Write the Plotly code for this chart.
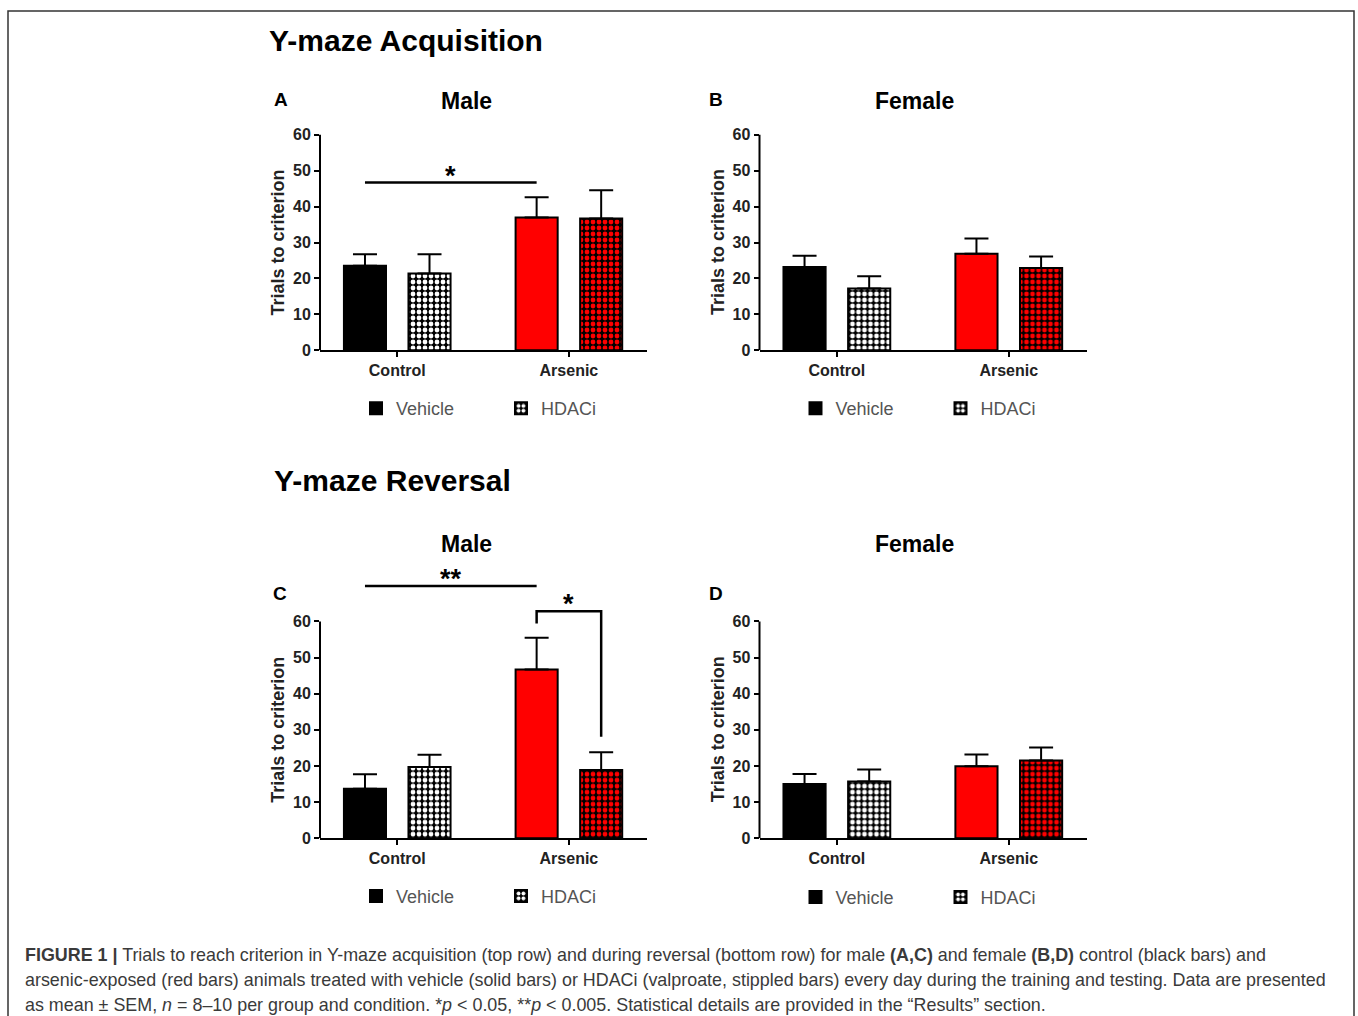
import plotly.graph_objects as go

W, H = 1358, 1016

# ---------------- data ----------------
categories = ["Control", "Arsenic"]
groups = ["Vehicle", "HDACi"]
y_ticks = [0, 10, 20, 30, 40, 50, 60]

# A: acquisition, male
a_vehicle = [23.5, 37.0]
a_vehicle_sem = [3.2, 5.6]
a_hdaci = [21.4, 36.7]
a_hdaci_sem = [5.3, 7.9]
# B: acquisition, female
b_vehicle = [23.2, 26.9]
b_vehicle_sem = [3.1, 4.2]
b_hdaci = [17.2, 22.9]
b_hdaci_sem = [3.4, 3.2]
# C: reversal, male
c_vehicle = [13.7, 46.7]
c_vehicle_sem = [4.0, 8.8]
c_hdaci = [19.7, 18.9]
c_hdaci_sem = [3.4, 4.9]
# D: reversal, female
d_vehicle = [15.0, 19.9]
d_vehicle_sem = [2.8, 3.3]
d_hdaci = [15.7, 21.5]
d_hdaci_sem = [3.3, 3.6]

# significance markers (data units)
a_sig_y = 46.7
c_sig_y = 69.8
c_bracket_y = 62.8
c_bracket_left_end = 59.4
c_bracket_right_end = 28.1

# ---------------- layout helpers ----------------
VS = 0.992  # vertical compensation for the capture

def px(x):
    return x / W

def py(y):
    return 1 - (y / VS) / H

BARGAP = 0.248
BARGROUPGAP = 0.348
OFF = (1 - BARGAP) / 4  # group offset of each bar from its category centre

panels = [
    dict(key="A", xa="x", ya="y", xd=(320, 647), yd=(81.1, 350.5),
         veh=a_vehicle, veh_e=a_vehicle_sem, hd=a_hdaci, hd_e=a_hdaci_sem,
         legend="legend", leg_y=409),
    dict(key="B", xa="x2", ya="y2", xd=(759.5, 1087), yd=(81.1, 350.5),
         veh=b_vehicle, veh_e=b_vehicle_sem, hd=b_hdaci, hd_e=b_hdaci_sem,
         legend="legend2", leg_y=409),
    dict(key="C", xa="x3", ya="y3", xd=(320, 647), yd=(567.7, 839),
         veh=c_vehicle, veh_e=c_vehicle_sem, hd=c_hdaci, hd_e=c_hdaci_sem,
         legend="legend3", leg_y=897),
    dict(key="D", xa="x4", ya="y4", xd=(759.5, 1087), yd=(567.7, 839),
         veh=d_vehicle, veh_e=d_vehicle_sem, hd=d_hdaci, hd_e=d_hdaci_sem,
         legend="legend4", leg_y=898),
]

BOLD = "Liberation Sans"
fig = go.Figure()

for i, p in enumerate(panels):
    fig.add_trace(go.Bar(
        x=categories, y=p["veh"], name=groups[0],
        xaxis=p["xa"], yaxis=p["ya"], legend=p["legend"],
        marker=dict(color=["black", "#ff0000"], line=dict(color="black", width=2)),
        error_y=dict(type="data", array=p["veh_e"], arrayminus=[0, 0], symmetric=False,
                     color="black", thickness=2, width=12),
    ))
    fig.add_trace(go.Bar(
        x=categories, y=p["hd"], name=groups[1],
        xaxis=p["xa"], yaxis=p["ya"], legend=p["legend"],
        marker=dict(color="black", line=dict(color="black", width=2),
                    pattern=dict(shape=".", fgcolor=["white", "#ff0000"], bgcolor="black",
                                 fillmode="replace", size=6, solidity=0.5)),
        error_y=dict(type="data", array=p["hd_e"], arrayminus=[0, 0], symmetric=False,
                     color="black", thickness=2, width=12),
    ))

layout = dict(
    width=W, height=H, margin=dict(l=0, r=0, t=0, b=0),
    paper_bgcolor="white", plot_bgcolor="rgba(0,0,0,0)",
    barmode="group", bargap=BARGAP, bargroupgap=BARGROUPGAP,
    font=dict(family=BOLD, color="#222"),
)

shapes = []
annotations = []
for i, p in enumerate(panels):
    n = "" if i == 0 else str(i + 1)
    layout["xaxis" + n] = dict(
        domain=[px(p["xd"][0]), px(p["xd"][1])], anchor=p["ya"],
        range=[-0.45, 1.455], showline=True, linecolor="black", linewidth=2,
        ticks="outside", ticklen=5, tickwidth=2, tickcolor="black",
        tickfont=dict(family=BOLD, size=16, weight="bold", color="#222"),
        showgrid=False, zeroline=False, fixedrange=True,
    )
    layout["yaxis" + n] = dict(
        domain=[py(p["yd"][1]), py(p["yd"][0])], anchor=p["xa"],
        range=[0, 75], tickvals=y_ticks, showline=False,
        ticks="outside", ticklen=5, tickwidth=2, tickcolor="black",
        tickfont=dict(family=BOLD, size=16, weight="bold", color="#222"),
        showgrid=False, zeroline=False, fixedrange=True,
    )
    # y axis line from 0 to 60
    shapes.append(dict(type="line", xref=p["xa"] + " domain", yref=p["ya"],
                       x0=0, x1=0, y0=0, y1=max(y_ticks),
                       line=dict(color="black", width=2)))
    # y axis title
    annotations.append(dict(text="Trials to criterion", xref=p["xa"] + " domain", yref=p["ya"],
                            x=0, y=30, xshift=-42, xanchor="center", yanchor="middle",
                            textangle=-90, showarrow=False,
                            font=dict(family=BOLD, size=18, weight="bold", color="#222")))
    # legend
    layout[p["legend"]] = dict(
        orientation="h", x=px(p["xd"][0] + 36), y=py(p["leg_y"]),
        xanchor="left", yanchor="middle", bgcolor="rgba(0,0,0,0)",
        font=dict(family="Liberation Sans", size=18, color="#555"),
        entrywidth=100, entrywidthmode="pixels", itemwidth=30,
    )

STAR = dict(family=BOLD, size=27, weight="bold", color="black")
# significance: panel A
shapes.append(dict(type="line", xref="x", yref="y", x0=0 - OFF, x1=1 - OFF,
                   y0=a_sig_y, y1=a_sig_y, line=dict(color="black", width=2.5)))
annotations.append(dict(text="*", xref="x", yref="y", x=(0 - OFF + 1 - OFF) / 2, y=a_sig_y,
                        yanchor="bottom", yshift=-10, showarrow=False, font=STAR))
# significance: panel C
shapes.append(dict(type="line", xref="x3", yref="y3", x0=0 - OFF, x1=1 - OFF,
                   y0=c_sig_y, y1=c_sig_y, line=dict(color="black", width=2.5)))
annotations.append(dict(text="**", xref="x3", yref="y3", x=(0 - OFF + 1 - OFF) / 2, y=c_sig_y,
                        yanchor="bottom", yshift=-10, showarrow=False, font=STAR))
shapes.append(dict(type="path", xref="x3", yref="y3",
                   path=f"M{1 - OFF},{c_bracket_left_end} L{1 - OFF},{c_bracket_y} "
                        f"L{1 + OFF},{c_bracket_y} L{1 + OFF},{c_bracket_right_end}",
                   line=dict(color="black", width=2.5)))
annotations.append(dict(text="*", xref="x3", yref="y3", x=1, y=c_bracket_y,
                        yanchor="bottom", yshift=-10, showarrow=False, font=STAR))

# headings
def txt(t, x, y, size, anchor="center", color="black", bold=True):
    annotations.append(dict(text=t, xref="paper", yref="paper", x=px(x), y=py(y),
                            xanchor=anchor, yanchor="middle", showarrow=False,
                            font=dict(family=BOLD, size=size, color=color,
                                      weight="bold" if bold else "normal")))

txt("Y-maze Acquisition", 267, 41, 30, anchor="left")
txt("Y-maze Reversal", 272, 481, 30, anchor="left")
txt("Male", 466, 101, 23)
txt("Female", 914, 101, 23)
txt("Male", 466, 544, 23)
txt("Female", 914, 544, 23)
txt("A", 281, 100, 19)
txt("B", 716, 100, 19)
txt("C", 280, 594, 19)
txt("D", 716, 594, 19)

caption = [
    "<b>FIGURE 1 |</b> Trials to reach criterion in Y-maze acquisition (top row) and during reversal "
    "(bottom row) for male <b>(A,C)</b> and female <b>(B,D)</b> control (black bars) and",
    "arsenic-exposed (red bars) animals treated with vehicle (solid bars) or HDACi (valproate, "
    "stippled bars) every day during the training and testing. Data are presented",
    "as mean ± SEM, <i>n</i> = 8–10 per group and condition. *<i>p</i> &lt; 0.05, **<i>p</i> &lt; 0.005. "
    "Statistical details are provided in the “Results” section.",
]
for k, line in enumerate(caption):
    annotations.append(dict(text=line, xref="paper", yref="paper", x=px(23), y=py(956 + 25 * k),
                            xanchor="left", yanchor="middle", showarrow=False, align="left",
                            font=dict(family="Liberation Sans", size=17.9, color="#3a3a3a")))

# frame
shapes.append(dict(type="rect", xref="paper", yref="paper", x0=px(8), x1=px(1354),
                   y0=-0.05, y1=py(11), line=dict(color="#333", width=1.5),
                   fillcolor="rgba(0,0,0,0)"))

layout["shapes"] = shapes
layout["annotations"] = annotations
fig.update_layout(**layout)
fig.write_html("out.html", config={"displayModeBar": False},
               post_script="document.body.style.margin='0';document.body.style.overflow='hidden';")
